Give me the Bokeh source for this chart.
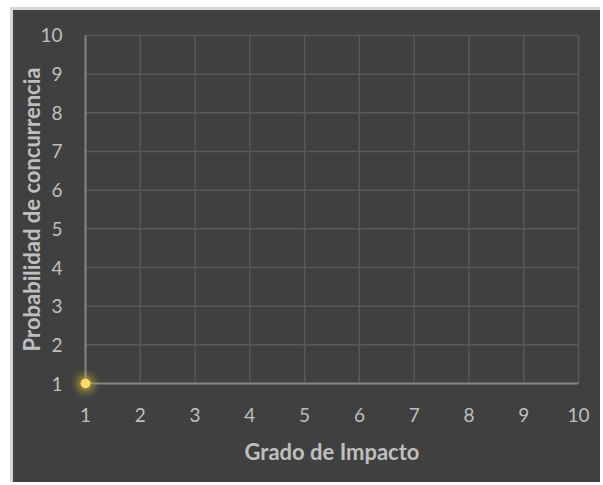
from bokeh.plotting import figure
from bokeh.models import FixedTicker, Range1d
from bokeh.embed import file_html
from bokeh.resources import INLINE

# Data
x_vals = [1]
y_vals = [1]
x_ticks = [1, 2, 3, 4, 5, 6, 7, 8, 9, 10]
y_ticks = [1, 2, 3, 4, 5, 6, 7, 8, 9, 10]
x_title = "Grado de Impacto"
y_title = "Probabilidad de concurrencia"

BG = "#404040"
GRID = "#595959"
AXIS = "#858585"
TXT = "#bfbfbf"
FONT = "Lato"

# padding (in data units) so the glow of the corner point is not clipped
px_x = 15 / 54.78
px_y = 15 / 38.67

p = figure(width=590, height=475, output_backend="svg", toolbar_location=None,
           x_range=Range1d(x_ticks[0] - px_x, x_ticks[-1] + px_x),
           y_range=Range1d(y_ticks[0] - px_y, y_ticks[-1] + px_y),
           background_fill_color=BG, border_fill_color=BG,
           min_border_left=57, min_border_right=10, min_border_top=10, min_border_bottom=87,
           styles={"margin-left": "10px", "margin-top": "7px", "background-color": BG,
                   "border-left": "3px solid #d6d6d6", "border-top": "3px solid #d6d6d6"})
p.outline_line_color = None

for ax, ticks in ((p.xaxis, x_ticks), (p.yaxis, y_ticks)):
    ax.ticker = FixedTicker(ticks=ticks)
    ax.major_tick_line_color = None
    ax.minor_tick_line_color = None
    ax.axis_line_color = None
    ax.major_label_text_color = TXT
    ax.major_label_text_font = FONT
    ax.major_label_text_font_size = "19px"
    ax.axis_label_text_color = TXT
    ax.axis_label_text_font = FONT
    ax.axis_label_text_font_style = "bold"
    ax.axis_label_text_font_size = "22px"

p.xaxis.axis_label = x_title
p.yaxis.axis_label = y_title
p.xaxis.major_label_standoff = 3
p.yaxis.major_label_standoff = 2
p.xaxis.axis_label_standoff = 13
p.yaxis.axis_label_standoff = -8

p.xgrid.visible = False
p.ygrid.visible = False

# grid lines limited to the tick span
p.segment(x0=x_ticks[1:], y0=[y_ticks[0]] * (len(x_ticks) - 1),
          x1=x_ticks[1:], y1=[y_ticks[-1]] * (len(x_ticks) - 1),
          line_color=GRID, line_width=1.5)
p.segment(x0=[x_ticks[0]] * (len(y_ticks) - 1), y0=y_ticks[1:],
          x1=[x_ticks[-1]] * (len(y_ticks) - 1), y1=y_ticks[1:],
          line_color=GRID, line_width=1.5)
# axis lines
p.segment(x0=[x_ticks[0]], y0=[y_ticks[0]], x1=[x_ticks[-1]], y1=[y_ticks[0]],
          line_color=AXIS, line_width=2)
p.segment(x0=[x_ticks[0]], y0=[y_ticks[0]], x1=[x_ticks[0]], y1=[y_ticks[-1]],
          line_color=AXIS, line_width=2)

# glow
for s, a in ((28, 0.10), (22, 0.16), (16, 0.25)):
    p.scatter(x_vals, y_vals, size=s, fill_color="#c8b43a", fill_alpha=a, line_color=None)
p.scatter(x_vals, y_vals, size=10, fill_color="#ffd966", line_color=None)

open("out.html", "w").write(file_html(p, INLINE))
